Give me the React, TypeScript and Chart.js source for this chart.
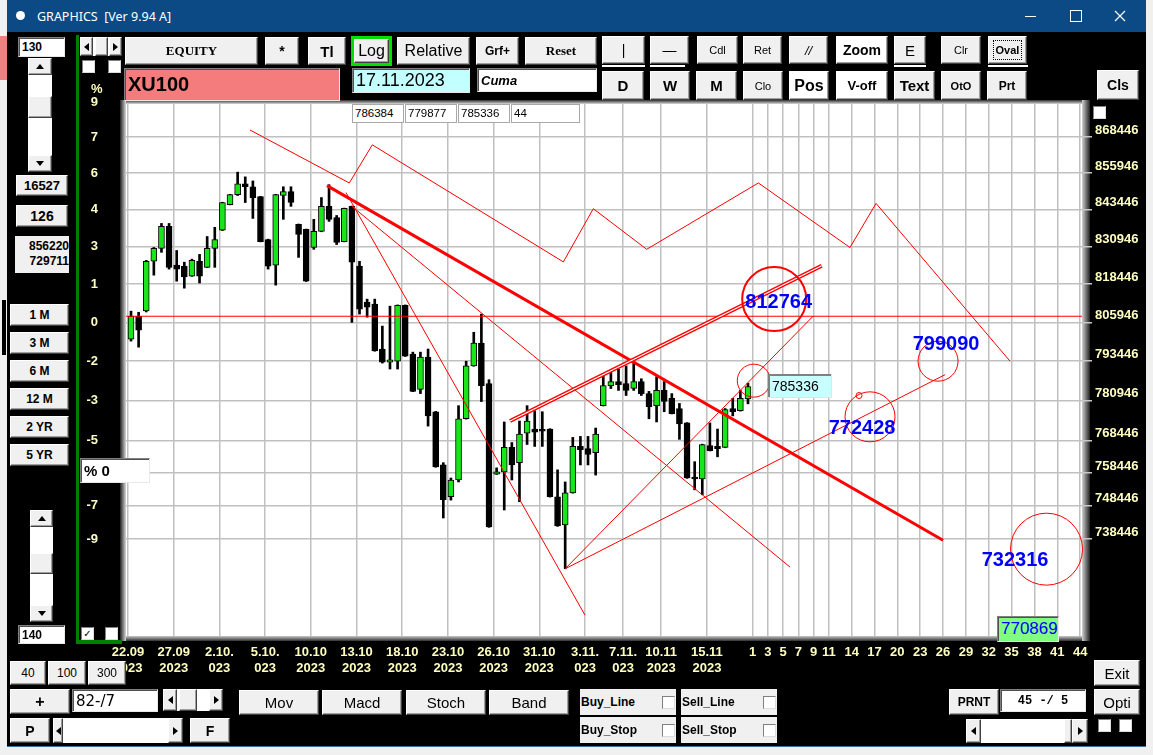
import React, { useEffect, useRef } from "react";
import { Chart, registerables } from "chart.js";
Chart.register(...registerables);

// ---------------- data (XU100, half-day bars) ----------------
const OPENS = [
  800500, 807900, 809600, 826000, 830300, 837700, 824700, 824400, 821100, 826000,
  824000, 830300, 836400, 845100, 848500, 852200, 851200, 847800, 833300, 824700,
  848200, 849500, 838400, 836700, 830600, 836000, 844500, 840700, 832600, 844500,
  824400, 812500, 811900, 797300, 793100, 793400, 811500, 795700, 784400, 794700,
  777400, 760900, 751200, 756300, 775200, 791900, 799200, 786300, 758100, 758800,
  766300, 761600, 770700, 772000, 771700, 772000, 751200, 742700, 752400, 766600,
  765900, 764700, 779300, 785600, 786900, 786300, 784700, 786900, 783100, 779300,
  784100, 781600, 778400, 773900, 757200, 756600, 766900, 766600, 766300, 778400,
  777700, 781400,
];
const HIGHS = [
  809570, 809200, 826300, 830600, 838700, 838700, 829600, 825700, 826700, 828300,
  834300, 837400, 845900, 848600, 856220, 854600, 853200, 847900, 833400, 848600,
  851200, 851200, 838500, 836800, 840100, 847500, 851900, 841400, 843900, 844600,
  826000, 813500, 813500, 804700, 811200, 811600, 811600, 796300, 796300, 797300,
  777500, 761600, 756900, 779300, 793400, 802700, 808600, 787500, 760000, 774200,
  767800, 774500, 779300, 777700, 777400, 772100, 759400, 755700, 769400, 769700,
  769700, 772300, 789400, 790000, 790900, 791900, 794100, 787800, 783800, 788400,
  786900, 783100, 780000, 774000, 761900, 767300, 773900, 772000, 778400, 781600,
  784100, 786384,
];
const LOWS = [
  799860, 797900, 809300, 821400, 829000, 823400, 819400, 817100, 821000, 818800,
  823900, 824000, 836300, 845000, 848200, 845800, 840400, 832500, 823400, 818100,
  840100, 844500, 827300, 819300, 830000, 835900, 839400, 831600, 832500, 805900,
  808600, 807600, 796600, 792800, 790900, 790900, 794900, 783700, 783100, 772900,
  760200, 744800, 750200, 755700, 775100, 791800, 780600, 742000, 758000, 747200,
  756300, 749700, 767200, 766600, 766600, 751100, 742300, 729711, 752300, 760900,
  760900, 757800, 779200, 784700, 784100, 782500, 784100, 782500, 775200, 774200,
  777400, 776700, 768800, 756800, 753300, 751800, 765200, 763400, 766200, 776100,
  777600, 779877,
];
const CLOSES = [
  807900, 803400, 826000, 830300, 837700, 824000, 823400, 820800, 826300, 821100,
  830300, 833300, 845800, 848500, 852200, 851200, 847500, 832600, 824400, 848500,
  849500, 845800, 835000, 819400, 836000, 844500, 840100, 832300, 843800, 825700,
  810200, 810900, 796700, 793100, 793800, 811500, 795000, 783800, 794700, 776100,
  760300, 750300, 756300, 775200, 791900, 799200, 785600, 742100, 758800, 766300,
  760900, 770400, 774500, 771000, 771300, 751200, 742400, 752400, 766600, 765600,
  764100, 770400, 785600, 786900, 785900, 784100, 786900, 783100, 779000, 784100,
  780600, 776800, 773600, 756900, 756600, 767200, 765300, 765900, 778100, 777400,
  781600, 785336,
];

const DATE_TICK_BARS = [0, 6, 12, 18, 24, 30, 36, 42, 48, 54, 60, 65, 70, 76];
const DATE_LINE1 = ["22.09", "27.09", "2.10.", "5.10.", "10.10", "13.10", "18.10", "23.10", "26.10", "31.10", "3.11.", "7.11.", "10.11", "15.11"];
const DATE_LINE2 = ["2023", "2023", "023", "023", "2023", "2023", "2023", "2023", "2023", "2023", "023", "023", "2023", "2023"];
const FUTURE_BARS_AHEAD = [1, 3, 5, 7, 9, 11, 14, 17, 20, 23, 26, 29, 32, 35, 38, 41, 44];
const PRICE_TICKS = [868446, 855946, 843446, 830946, 818446, 805946, 793446, 780946, 768446, 758446, 748446, 738446];

// drawing objects (bar index, price)
const ZIGZAG_BARS = [15.62, 28.66, 31.68, 56.76, 60.69, 67.7, 82.36, 94.39, 97.81, 115.4];
const ZIGZAG_PRICES = [870900, 852500, 865700, 825800, 843700, 830000, 852500, 830600, 845500, 793400];
const TREND_BARS = [25.73, 106.6];
const TREND_PRICES = [851600, 738150];
const FAN_A_BARS = [28.23, 59.6];
const FAN_A_PRICES = [849200, 716200];
const FAN_B_BARS = [29.01, 86.52];
const FAN_B_PRICES = [844500, 730200];
const CHANNEL_BARS = [49.76, 90.68];
const CHANNEL_PRICES = [774500, 824500];
const RAY_UP_BARS = [57, 89.58];
const RAY_UP_PRICES = [729711, 808000];
const RAY_LOW_BARS = [57, 106.87];
const RAY_LOW_PRICES = [729711, 789100];
const CIRCLE_BARS = [84.44, 81.76, 97.02, 105.95, 120.19, 95.58];
const CIRCLE_PRICES = [813500, 787200, 775800, 793400, 735500, 782500];
const TARGET_LABELS = ["812764", "799090", "772428", "732316"];
const TARGET_BARS = [85.03, 107.0, 95.97, 116.06];

// ---------------- style constants ----------------
const CIRCLE_RADII = [32, 16.5, 25, 20, 36, 3];
const CIRCLE_WIDTHS = [2, 1, 1, 1, 1, 1];
const GREEN = "#19e619";
const RED = "#ff0000";
const PALE = "#ffffc0";
const SANS = "'Liberation Sans', Arial, Helvetica, sans-serif";
const SERIF = "'Liberation Serif', 'Times New Roman', serif";

const N = CLOSES.length;
const LAST = N - 1;
const BASE = CLOSES[0];
const X_MIN = -0.656;
const X_MAX = 124.85;
const Y_MIN = 710200;
const Y_MAX = 880070;
const TICK_SHIFT = -0.394;
const LABEL_GAP = 2.59;

const X_TICK_BARS = [...DATE_TICK_BARS, ...FUTURE_BARS_AHEAD.map((n) => LAST + n)];
const X_TICK_LABELS: (string | string[])[] = [
  ...DATE_LINE1.map((t, i) => [t, DATE_LINE2[i]]),
  ...FUTURE_BARS_AHEAD.map((n) => String(n)),
];

const pts = (bars: number[], prices: number[]) => bars.map((b, i) => ({ x: b, y: prices[i] }));
const lineDs = (data: any[], color: string, width: number, order = 1) => ({
  type: "line",
  data,
  borderColor: color,
  borderWidth: width,
  pointRadius: 0,
  pointHoverRadius: 0,
  fill: false,
  tension: 0,
  order,
});

const zeroPad = (s: any) => {
  s.paddingTop = 0;
  s.paddingBottom = 0;
  s.paddingLeft = 0;
  s.paddingRight = 0;
};

const framePlugin = {
  id: "frame",
  beforeDraw(chart: any) {
    const { ctx, chartArea: a } = chart;
    ctx.save();
    let g = ctx.createLinearGradient(a.left - 6, 0, a.left, 0);
    g.addColorStop(0, "#202020");
    g.addColorStop(1, "#d8d8d8");
    ctx.fillStyle = g;
    ctx.fillRect(a.left - 6, a.top - 4, 6, a.bottom - a.top + 9);
    g = ctx.createLinearGradient(0, a.top - 4, 0, a.top);
    g.addColorStop(0, "#303030");
    g.addColorStop(1, "#d8d8d8");
    ctx.fillStyle = g;
    ctx.fillRect(a.left, a.top - 4, a.right - a.left, 4);
    g = ctx.createLinearGradient(a.right, 0, a.right + 8, 0);
    g.addColorStop(0, "#d0d0d0");
    g.addColorStop(1, "#202020");
    ctx.fillStyle = g;
    ctx.fillRect(a.right, a.top - 4, 8, a.bottom - a.top + 9);
    g = ctx.createLinearGradient(0, a.bottom, 0, a.bottom + 5);
    g.addColorStop(0, "#c8c8c8");
    g.addColorStop(1, "#303030");
    ctx.fillStyle = g;
    ctx.fillRect(a.left, a.bottom, a.right - a.left, 5);
    ctx.fillStyle = "#ffffff";
    ctx.fillRect(a.left, a.top, a.right - a.left, a.bottom - a.top);
    ctx.restore();
  },
};

const annoPlugin = {
  id: "anno",
  afterDatasetsDraw(chart: any) {
    const { ctx, scales } = chart;
    const xs = scales.x;
    const ys = scales.y;
    ctx.save();
    ctx.font = `bold 20px ${SANS}`;
    ctx.fillStyle = "#0000ff";
    ctx.textAlign = "center";
    ctx.textBaseline = "middle";
    TARGET_LABELS.forEach((t, i) => {
      ctx.fillText(t, xs.getPixelForValue(TARGET_BARS[i]), ys.getPixelForValue(Number(t)) + 1);
    });
    // last close box
    const bx = Math.round(xs.getPixelForValue(LAST + LABEL_GAP));
    const cy = ys.getPixelForValue(CLOSES[LAST]);
    const w = 64;
    const h = 24;
    const top = Math.round(cy - 12.5);
    ctx.fillStyle = "#c8ffff";
    ctx.fillRect(bx, top, w, h);
    ctx.fillStyle = "#808080";
    ctx.fillRect(bx, top, w, 2);
    ctx.fillRect(bx, top, 2, h);
    ctx.fillStyle = "#e4e4e4";
    ctx.fillRect(bx, top + h - 1, w, 1);
    ctx.fillRect(bx + w - 1, top, 1, h);
    ctx.fillStyle = "#000";
    ctx.font = `14px ${SANS}`;
    ctx.textAlign = "left";
    ctx.fillText(String(CLOSES[LAST]), bx + 4, top + h / 2 + 1);
    ctx.restore();
  },
};

const tickFont = { family: SANS, size: 13, weight: "bold" as const, lineHeight: 1.23 };

function buildConfig(): any {
  const wickData = LOWS.map((l, i) => ({ x: i, y: [l, HIGHS[i]] }));
  const bodyData = OPENS.map((o, i) => ({ x: i, y: [o, CLOSES[i]] }));
  const bodyColors = OPENS.map((o, i) => (CLOSES[i] > o ? GREEN : "#000000"));
  const circles = CIRCLE_BARS.map((b, i) => ({
    type: "line",
    data: [{ x: b, y: CIRCLE_PRICES[i] }],
    showLine: false,
    pointRadius: CIRCLE_RADII[i],
    pointHoverRadius: CIRCLE_RADII[i],
    pointBorderColor: RED,
    pointBackgroundColor: "rgba(0,0,0,0)",
    pointBorderWidth: CIRCLE_WIDTHS[i],
    clip: false,
    order: 0,
  }));
  return {
    type: "bar",
    data: {
      datasets: [
        { type: "bar", data: wickData, backgroundColor: "#000", borderWidth: 0, barThickness: 2, grouped: false, order: 6 },
        {
          type: "bar",
          data: bodyData,
          backgroundColor: bodyColors,
          borderColor: "#000",
          borderWidth: 1,
          borderSkipped: false,
          barThickness: 6,
          minBarLength: 2,
          grouped: false,
          order: 5,
        },
        lineDs(pts([X_MIN, X_MAX], [BASE, BASE]), RED, 1.2, 4),
        lineDs(pts(ZIGZAG_BARS, ZIGZAG_PRICES), RED, 1, 2),
        lineDs(pts(TREND_BARS, TREND_PRICES), RED, 3, 2),
        lineDs(pts(FAN_A_BARS, FAN_A_PRICES), RED, 1, 2),
        lineDs(pts(FAN_B_BARS, FAN_B_PRICES), RED, 1, 2),
        lineDs(pts(CHANNEL_BARS, CHANNEL_PRICES), RED, 4, 2),
        lineDs(pts(CHANNEL_BARS, CHANNEL_PRICES), "#ffffff", 1.2, 1),
        lineDs(pts(RAY_UP_BARS, RAY_UP_PRICES), RED, 1, 2),
        lineDs(pts(RAY_LOW_BARS, RAY_LOW_PRICES), RED, 1, 2),
        ...circles,
      ],
    },
    options: {
      responsive: false,
      animation: false,
      events: [],
      layout: { autoPadding: false, padding: { top: 8, left: 0, right: 0, bottom: 0 } },
      plugins: { legend: { display: false }, tooltip: { enabled: false } },
      scales: {
        x: {
          type: "linear",
          position: "bottom",
          min: X_MIN,
          max: X_MAX,
          offset: false,
          afterBuildTicks: (s: any) => {
            s.ticks = X_TICK_BARS.map((b) => ({ value: b + TICK_SHIFT }));
          },
          afterFit: (s: any) => {
            s.height = 50;
            zeroPad(s);
          },
          grid: { color: "#c0c0c0", lineWidth: 1.5, drawTicks: false, offset: false },
          border: { display: false },
          ticks: {
            autoSkip: false,
            maxRotation: 0,
            minRotation: 0,
            color: PALE,
            font: tickFont,
            padding: 8,
            callback: (_v: any, i: number) => X_TICK_LABELS[i],
          },
        },
        y: {
          type: "logarithmic",
          position: "right",
          min: Y_MIN,
          max: Y_MAX,
          beginAtZero: false,
          afterBuildTicks: (s: any) => {
            s.ticks = PRICE_TICKS.map((v) => ({ value: v }));
          },
          afterFit: (s: any) => {
            s.width = 63;
            zeroPad(s);
          },
          grid: { color: "#c0c0c0", tickColor: "#c8c8c8", lineWidth: 1.5, tickLength: 10 },
          border: { display: false },
          ticks: { color: PALE, font: tickFont, padding: 3, labelOffset: -7, callback: (v: any) => String(v) },
        },
        yp: {
          type: "logarithmic",
          axis: "y",
          position: "left",
          min: Y_MIN,
          max: Y_MAX,
          beginAtZero: false,
          afterBuildTicks: (s: any) => {
            s.ticks = PRICE_TICKS.map((v) => ({ value: v }));
          },
          afterFit: (s: any) => {
            s.width = 46;
            zeroPad(s);
          },
          grid: { display: false, drawTicks: false },
          border: { display: false },
          ticks: {
            color: PALE,
            font: tickFont,
            padding: 28,
            callback: (v: any) => String(Math.round((Number(v) / BASE - 1) * 100)),
          },
        },
      },
    },
    plugins: [framePlugin, annoPlugin],
  };
}

// ---------------- UI helpers ----------------
type BoxProps = {
  x: number;
  y: number;
  w: number;
  h: number;
  children?: React.ReactNode;
  font?: string;
  bg?: string;
  style?: React.CSSProperties;
};

const Btn = ({ x, y, w, h, children, font = `bold 12px ${SANS}`, bg = "#f0f0f0", style }: BoxProps) => (
  <div
    style={{
      position: "absolute",
      left: x,
      top: y,
      width: w,
      height: h,
      boxSizing: "border-box",
      background: bg,
      borderTop: "1px solid #ffffff",
      borderLeft: "1px solid #ffffff",
      borderRight: "1px solid #404040",
      borderBottom: "1px solid #404040",
      boxShadow: "inset -1px -1px 0 #a0a0a0",
      display: "flex",
      alignItems: "center",
      justifyContent: "center",
      font,
      color: "#000",
      whiteSpace: "pre",
      overflow: "hidden",
      ...style,
    }}
  >
    {children}
  </div>
);

const Field = ({ x, y, w, h, children, font = `12px ${SANS}`, bg = "#ffffff", style }: BoxProps) => (
  <div
    style={{
      position: "absolute",
      left: x,
      top: y,
      width: w,
      height: h,
      boxSizing: "border-box",
      background: bg,
      borderTop: "1px solid #808080",
      borderLeft: "1px solid #808080",
      borderRight: "1px solid #e8e8e8",
      borderBottom: "1px solid #e8e8e8",
      boxShadow: "inset 1px 1px 0 #505050",
      display: "flex",
      alignItems: "center",
      paddingLeft: 3,
      font,
      color: "#000",
      whiteSpace: "pre",
      overflow: "hidden",
      ...style,
    }}
  >
    {children}
  </div>
);

const Check = ({ x, y, checked = false }: { x: number; y: number; checked?: boolean }) => (
  <div
    style={{
      position: "absolute",
      left: x,
      top: y,
      width: 13,
      height: 13,
      boxSizing: "border-box",
      background: "#fff",
      borderTop: "1px solid #808080",
      borderLeft: "1px solid #808080",
      borderRight: "1px solid #dcdcdc",
      borderBottom: "1px solid #dcdcdc",
      font: `bold 10px 'DejaVu Sans', sans-serif`,
      lineHeight: "11px",
      textAlign: "center",
      color: "#000",
    }}
  >
    {checked ? "✓" : ""}
  </div>
);

const Arrow = ({ x, y, w, h, dir }: { x: number; y: number; w: number; h: number; dir: "up" | "down" | "left" | "right" }) => {
  const p =
    dir === "up" ? "0,5 4,0 8,5" : dir === "down" ? "0,0 8,0 4,5" : dir === "left" ? "5,0 5,8 0,4" : "0,0 0,8 5,4";
  const vw = dir === "up" || dir === "down" ? 8 : 5;
  const vh = dir === "up" || dir === "down" ? 5 : 8;
  return (
    <Btn x={x} y={y} w={w} h={h}>
      <svg width={vw} height={vh} viewBox={`0 0 ${vw} ${vh}`}>
        <polygon points={p} fill="#000" />
      </svg>
    </Btn>
  );
};

const Txt = ({ x, y, children, font, color = "#fff", style }: any) => (
  <div style={{ position: "absolute", left: x, top: y, font, color, whiteSpace: "pre", ...style }}>{children}</div>
);

export default function App() {
  const ref = useRef<HTMLCanvasElement>(null);
  useEffect(() => {
    if (!ref.current) return;
    const chart = new Chart(ref.current, buildConfig());
    return () => chart.destroy();
  }, []);

  const maxHigh = Math.max(...HIGHS);
  const minLow = Math.min(...LOWS);

  return (
    <div
      style={{
        position: "fixed",
        left: 0,
        top: 0,
        width: 1153,
        height: 755,
        background: "#f0f0f0",
        overflow: "hidden",
        fontFamily: SANS,
      }}
    >
      {/* background window hints */}
      <div style={{ position: "absolute", left: 0, top: 36, width: 7, height: 44, background: "#f08080" }} />
      <div style={{ position: "absolute", left: 2, top: 300, width: 4, height: 55, background: "#000" }} />

      {/* window */}
      <div style={{ position: "absolute", left: 7, top: 0, width: 1139, height: 746, background: "#000", borderBottom: "1px solid #3b6ea5" }} />
      <div style={{ position: "absolute", left: 7, top: 0, width: 1139, height: 32, background: "#0c4a86" }} />
      <div style={{ position: "absolute", left: 16, top: 11, width: 9, height: 9, borderRadius: "50%", background: "#fff" }} />
      <Txt x={37} y={8} font={`12.5px 'Noto Sans', ${SANS}`}>GRAPHICS  [Ver 9.94 A]</Txt>
      <div style={{ position: "absolute", left: 1025, top: 16, width: 11, height: 1, background: "#fff" }} />
      <div style={{ position: "absolute", left: 1070, top: 10, width: 10, height: 10, border: "1px solid #fff" }} />
      <svg style={{ position: "absolute", left: 1114, top: 10 }} width="12" height="12">
        <path d="M1 1L11 11M11 1L1 11" stroke="#fff" strokeWidth="1.2" />
      </svg>

      {/* chart */}
      <canvas ref={ref} width={1065} height={590} style={{ position: "absolute", left: 80, top: 96, width: 1065, height: 590 }} />

      {/* green separator */}
      <div style={{ position: "absolute", left: 76, top: 35, width: 3, height: 609, background: "#008000" }} />
      <div style={{ position: "absolute", left: 76, top: 640, width: 46, height: 4, background: "#008000" }} />

      {/* left column */}
      <Field x={18} y={37} w={47} h={20} font={`bold 12px ${SANS}`}>130</Field>
      <div style={{ position: "absolute", left: 28, top: 58, width: 24, height: 114, background: "#fff" }} />
      <Arrow x={28} y={58} w={24} h={17} dir="up" />
      <Btn x={28} y={96} w={24} h={22} />
      <Arrow x={28} y={155} w={24} h={17} dir="down" />
      <Btn x={16} y={175} w={52} h={21} font={`bold 13px ${SANS}`}>16527</Btn>
      <Btn x={16} y={205} w={52} h={22} font={`bold 14px ${SANS}`}>126</Btn>
      <div
        style={{
          position: "absolute",
          left: 15,
          top: 236,
          width: 54,
          height: 37,
          background: "#f0f0f0",
          font: `bold 12px ${SANS}`,
          textAlign: "right",
          lineHeight: "15px",
          paddingTop: 3,
          boxSizing: "border-box",
          color: "#000",
        }}
      >
        {String(maxHigh)}
        <br />
        {String(minLow)}
      </div>
      {["1 M", "3 M", "6 M", "12 M", "2 YR", "5 YR"].map((t, i) => (
        <Btn key={t} x={10} y={304 + i * 28} w={59} h={22} font={`bold 12px ${SANS}`}>
          {t}
        </Btn>
      ))}
      <div style={{ position: "absolute", left: 30, top: 510, width: 23, height: 112, background: "#fff" }} />
      <Arrow x={30} y={510} w={23} h={17} dir="up" />
      <Btn x={30} y={553} w={23} h={21} />
      <Arrow x={30} y={605} w={23} h={17} dir="down" />
      <Field x={18} y={625} w={47} h={19} font={`bold 12px ${SANS}`}>140</Field>
      <Check x={81} y={627} checked />
      <Check x={105} y={627} />

      {/* top-left controls */}
      <div style={{ position: "absolute", left: 80, top: 37, width: 42, height: 19, background: "#fff" }} />
      <Arrow x={80} y={37} w={13} h={19} dir="left" />
      <Btn x={95} y={37} w={13} h={19} />
      <Arrow x={109} y={37} w={13} h={19} dir="right" />
      <Check x={82} y={60} />
      <Check x={108} y={60} />
      <Txt x={91} y={81} font={`bold 13px ${SANS}`} color={PALE}>%</Txt>
      <Txt x={84} y={94} font={`bold 13px ${SANS}`} color={PALE} style={{ width: 14, textAlign: "right" }}>
        {String(Math.round(((PRICE_TICKS[0] + (PRICE_TICKS[0] - PRICE_TICKS[1])) / BASE - 1) * 100))}
      </Txt>

      {/* toolbar row 1 */}
      <Btn x={125} y={37} w={133} h={28} font={`bold 13px ${SERIF}`}>EQUITY</Btn>
      <Btn x={265} y={37} w={34} h={28} font={`bold 14px ${SANS}`}>*</Btn>
      <Btn x={308} y={37} w={38} h={28} font={`bold 15px ${SANS}`}>Tl</Btn>
      <div style={{ position: "absolute", left: 351, top: 36, width: 41, height: 30, background: "#00e000" }} />
      <Btn x={354} y={39} w={35} h={24} font={`16px ${SANS}`}>Log</Btn>
      <Btn x={397} y={37} w={73} h={28} font={`16px ${SANS}`}>Relative</Btn>
      <Btn x={476} y={37} w={43} h={28} font={`bold 12px ${SANS}`}>Grf+</Btn>
      <Btn x={525} y={37} w={72} h={28} font={`bold 13px ${SERIF}`}>Reset</Btn>
      <Btn x={602} y={36} w={43} h={28} font={`14px ${SANS}`}>|</Btn>
      <Btn x={650} y={36} w={39} h={28} font={`14px ${SANS}`}>—</Btn>
      <Btn x={697} y={36} w={41} h={28} font={`11px ${SANS}`}>Cdl</Btn>
      <Btn x={743} y={36} w={39} h={28} font={`11px ${SANS}`}>Ret</Btn>
      <Btn x={789} y={36} w={39} h={28} font={`italic 13px ${SANS}`}>//</Btn>
      <Btn x={836} y={36} w={52} h={28} font={`bold 14px ${SANS}`} bg="#ffffff">Zoom</Btn>
      <Btn x={894} y={36} w={32} h={28} font={`15px ${SANS}`}>E</Btn>
      <Btn x={941} y={36} w={40} h={28} font={`11px ${SANS}`}>Clr</Btn>
      <Btn x={988} y={36} w={39} h={28} font={`bold 11px ${SANS}`}>
        <span style={{ border: "1px dotted #000", padding: "3px 2px" }}>Oval</span>
      </Btn>
      <div style={{ position: "absolute", left: 602, top: 65, width: 43, height: 2, background: "#fff" }} />
      <div style={{ position: "absolute", left: 650, top: 65, width: 35, height: 2, background: "#fff" }} />
      <div style={{ position: "absolute", left: 894, top: 65, width: 32, height: 2, background: "#fff" }} />
      <div style={{ position: "absolute", left: 988, top: 65, width: 40, height: 2, background: "#fff" }} />

      {/* toolbar row 2 */}
      <Field x={124} y={68} w={216} h={33} bg="#f47c7c" font={`bold 20px ${SANS}`}>XU100</Field>
      <Field x={352} y={68} w={118} h={25} bg="#c4ffff" font={`18px ${SANS}`}>17.11.2023</Field>
      <Field x={477} y={68} w={120} h={24} font={`italic bold 13px ${SANS}`}>Cuma</Field>
      <Btn x={602} y={71} w={42} h={29} font={`bold 15px ${SANS}`}>D</Btn>
      <Btn x={650} y={71} w={40} h={29} font={`bold 15px ${SANS}`}>W</Btn>
      <Btn x={696} y={71} w={41} h={29} font={`bold 15px ${SANS}`}>M</Btn>
      <Btn x={743} y={71} w={40} h={29} font={`11px ${SANS}`}>Clo</Btn>
      <Btn x={789} y={71} w={40} h={29} font={`bold 16px ${SANS}`} bg="#ffffff">Pos</Btn>
      <Btn x={836} y={71} w={52} h={29} font={`bold 13px ${SANS}`} bg="#ffffff">V-off</Btn>
      <Btn x={894} y={71} w={41} h={29} font={`bold 15px ${SANS}`}>Text</Btn>
      <Btn x={941} y={71} w={40} h={29} font={`bold 11px ${SANS}`}>OtO</Btn>
      <Btn x={987} y={71} w={40} h={29} font={`bold 12px ${SANS}`}>Prt</Btn>
      <Btn x={1097} y={70} w={42} h={30} font={`bold 14px ${SANS}`}>Cls</Btn>
      <Check x={1093} y={106} />

      {/* info boxes above the plot */}
      {[String(HIGHS[LAST]), String(LOWS[LAST]), String(CLOSES[LAST]), String(FUTURE_BARS_AHEAD[FUTURE_BARS_AHEAD.length - 1])].map(
        (t, i) => (
          <div
            key={i}
            style={{
              position: "absolute",
              left: 352 + i * 53,
              top: 104,
              width: i === 3 ? 69 : 52,
              height: 19,
              boxSizing: "border-box",
              background: "#fff",
              border: "1px solid #a8a8a8",
              font: `11.5px ${SANS}`,
              lineHeight: "17px",
              paddingLeft: 2,
              color: "#000",
            }}
          >
            {t}
          </div>
        )
      )}

      <Field x={80} y={458} w={70} h={25} font={`bold 15px ${SANS}`}>% 0</Field>
      <Field x={997} y={616} w={62} h={26} bg="#80ff80" font={`17px ${SANS}`} style={{ color: "#0000ff" }}>
        770869
      </Field>

      {/* bottom-left controls */}
      <Btn x={10} y={661} w={36} h={24} font={`12px ${SANS}`}>40</Btn>
      <Btn x={48} y={661} w={38} h={24} font={`12px ${SANS}`}>100</Btn>
      <Btn x={88} y={661} w={38} h={24} font={`12px ${SANS}`}>300</Btn>
      <Btn x={10} y={689} w={60} h={25} font={`bold 16px ${SANS}`}>+</Btn>
      <Field x={72} y={689} w={86} h={23} font={`15px 'DejaVu Sans', sans-serif`}>82-/7</Field>
      <div style={{ position: "absolute", left: 163, top: 689, width: 60, height: 22, background: "#fff" }} />
      <Arrow x={163} y={689} w={14} h={22} dir="left" />
      <Btn x={179} y={689} w={18} h={22} />
      <Arrow x={209} y={689} w={14} h={22} dir="right" />
      <Btn x={10} y={718} w={40} h={25} font={`bold 14px ${SANS}`}>P</Btn>
      <div style={{ position: "absolute", left: 53, top: 718, width: 130, height: 25, background: "#fff" }} />
      <Arrow x={53} y={718} w={10} h={25} dir="left" />
      <Arrow x={168} y={718} w={15} h={25} dir="right" />
      <Btn x={190} y={718} w={40} h={25} font={`bold 14px ${SANS}`}>F</Btn>

      {/* indicator buttons */}
      <Btn x={239} y={690} w={80} h={25} font={`15px ${SANS}`}>Mov</Btn>
      <Btn x={322} y={690} w={80} h={25} font={`15px ${SANS}`}>Macd</Btn>
      <Btn x={406} y={690} w={80} h={25} font={`15px ${SANS}`}>Stoch</Btn>
      <Btn x={489} y={690} w={80} h={25} font={`15px ${SANS}`}>Band</Btn>

      {[
        ["Buy_Line", 580, 689],
        ["Sell_Line", 681, 689],
        ["Buy_Stop", 580, 717],
        ["Sell_Stop", 681, 717],
      ].map(([t, x, y]) => (
        <React.Fragment key={t as string}>
          <div
            style={{
              position: "absolute",
              left: x as number,
              top: y as number,
              width: 96,
              height: 26,
              background: "#f0f0f0",
              font: `bold 12px ${SANS}`,
              lineHeight: "26px",
              paddingLeft: 1,
              boxSizing: "border-box",
              color: "#000",
            }}
          >
            {t}
          </div>
          <Check x={(x as number) + 82} y={(y as number) + 7} />
        </React.Fragment>
      ))}

      {/* bottom-right controls */}
      <Btn x={949} y={689} w={50} h={26} font={`bold 12px ${SANS}`}>PRNT</Btn>
      <Field x={1000} y={689} w={86} h={23} font={`bold 12px 'Liberation Mono', monospace`} style={{ justifyContent: "center", paddingLeft: 0 }}>
        45 -/ 5
      </Field>
      <Btn x={1094} y={660} w={46} h={26} font={`15px ${SANS}`}>Exit</Btn>
      <Btn x={1094} y={689} w={46} h={26} font={`15px ${SANS}`}>Opti</Btn>
      <div style={{ position: "absolute", left: 966, top: 719, width: 122, height: 24, background: "#fff" }} />
      <Arrow x={966} y={719} w={15} h={24} dir="left" />
      <Btn x={1064} y={719} w={8} h={24} />
      <Arrow x={1072} y={719} w={16} h={24} dir="right" />
      <Check x={1098} y={719} />
      <Check x={1119} y={719} />
    </div>
  );
}
